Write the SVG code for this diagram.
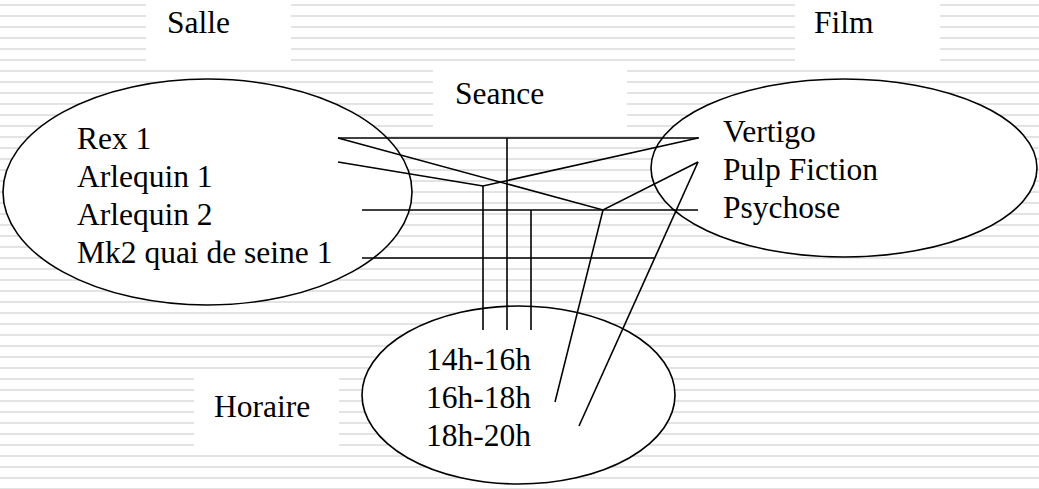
<svg xmlns="http://www.w3.org/2000/svg" width="1039" height="489" viewBox="0 0 1039 489">
  <defs>
    <pattern id="stripes" patternUnits="userSpaceOnUse" x="0" y="4" width="1039" height="11">
      <rect x="0" y="0" width="1039" height="2" fill="#e3e3e3"/>
    </pattern>
    <style>
      .set { fill: #ffffff; stroke: #000000; stroke-width: 1.6; }
      .pad { fill: #ffffff; }
      .link { stroke: #000000; stroke-width: 1.6; fill: none; stroke-linejoin: miter; }
      text { font-family: "Times New Roman", "Liberation Serif", "DejaVu Serif", serif; font-size: 31.5px; fill: #000000; }
    </style>
  </defs>

  <!-- ruled background -->
  <rect x="0" y="0" width="1039" height="489" fill="#ffffff"/>
  <rect x="0" y="0" width="1039" height="489" fill="url(#stripes)"/>

  <!-- title plates -->
  <g id="title-salle">
    <rect class="pad" x="146" y="0" width="145" height="63"/>
    <text x="167" y="33">Salle</text>
  </g>
  <g id="title-film">
    <rect class="pad" x="795" y="0" width="145" height="63"/>
    <text x="814" y="33">Film</text>
  </g>
  <g id="title-seance">
    <rect class="pad" x="433" y="64" width="194" height="72"/>
    <text x="455" y="104">Seance</text>
  </g>
  <g id="title-horaire">
    <rect class="pad" x="194" y="372" width="145" height="75"/>
    <text x="214" y="417">Horaire</text>
  </g>

  <!-- sets -->
  <g id="set-salle">
    <ellipse class="set" cx="207.5" cy="192" rx="204.5" ry="113"/>
    <text x="77" y="149">Rex 1</text>
    <text x="77" y="187">Arlequin 1</text>
    <text x="77" y="225">Arlequin 2</text>
    <text x="77" y="263">Mk2 quai de seine 1</text>
  </g>
  <g id="set-film">
    <ellipse class="set" cx="844" cy="168" rx="193" ry="89"/>
    <text x="723" y="142">Vertigo</text>
    <text x="723" y="180">Pulp Fiction</text>
    <text x="723" y="218">Psychose</text>
  </g>
  <g id="set-horaire">
    <ellipse class="set" cx="518.5" cy="395" rx="156.5" ry="89"/>
    <text x="426" y="370">14h-16h</text>
    <text x="426" y="408">16h-18h</text>
    <text x="426" y="446">18h-20h</text>
  </g>

  <!-- séance links -->
  <g id="connectors">
    <!-- Rex 1 / Vertigo / 14h-16h -->
    <line class="link" x1="338" y1="138" x2="699" y2="138"/>
    <line class="link" x1="507" y1="138" x2="507" y2="330"/>
    <!-- Rex 1 / Pulp Fiction / 16h-18h -->
    <polyline class="link" points="338,138 603,210 698,162"/>
    <line class="link" x1="603" y1="210" x2="555" y2="402"/>
    <!-- Arlequin 1 / Vertigo / 14h-16h -->
    <polyline class="link" points="338,162 483,186 698,138"/>
    <line class="link" x1="483" y1="186" x2="483" y2="330"/>
    <!-- Arlequin 2 / Psychose / 14h-16h -->
    <line class="link" x1="362" y1="210" x2="698" y2="210"/>
    <line class="link" x1="531" y1="210" x2="531" y2="330"/>
    <!-- Mk2 quai de seine 1 / Pulp Fiction / 18h-20h -->
    <line class="link" x1="362" y1="258" x2="654" y2="258"/>
    <line class="link" x1="698" y1="162" x2="579" y2="426"/>
  </g>
</svg>
